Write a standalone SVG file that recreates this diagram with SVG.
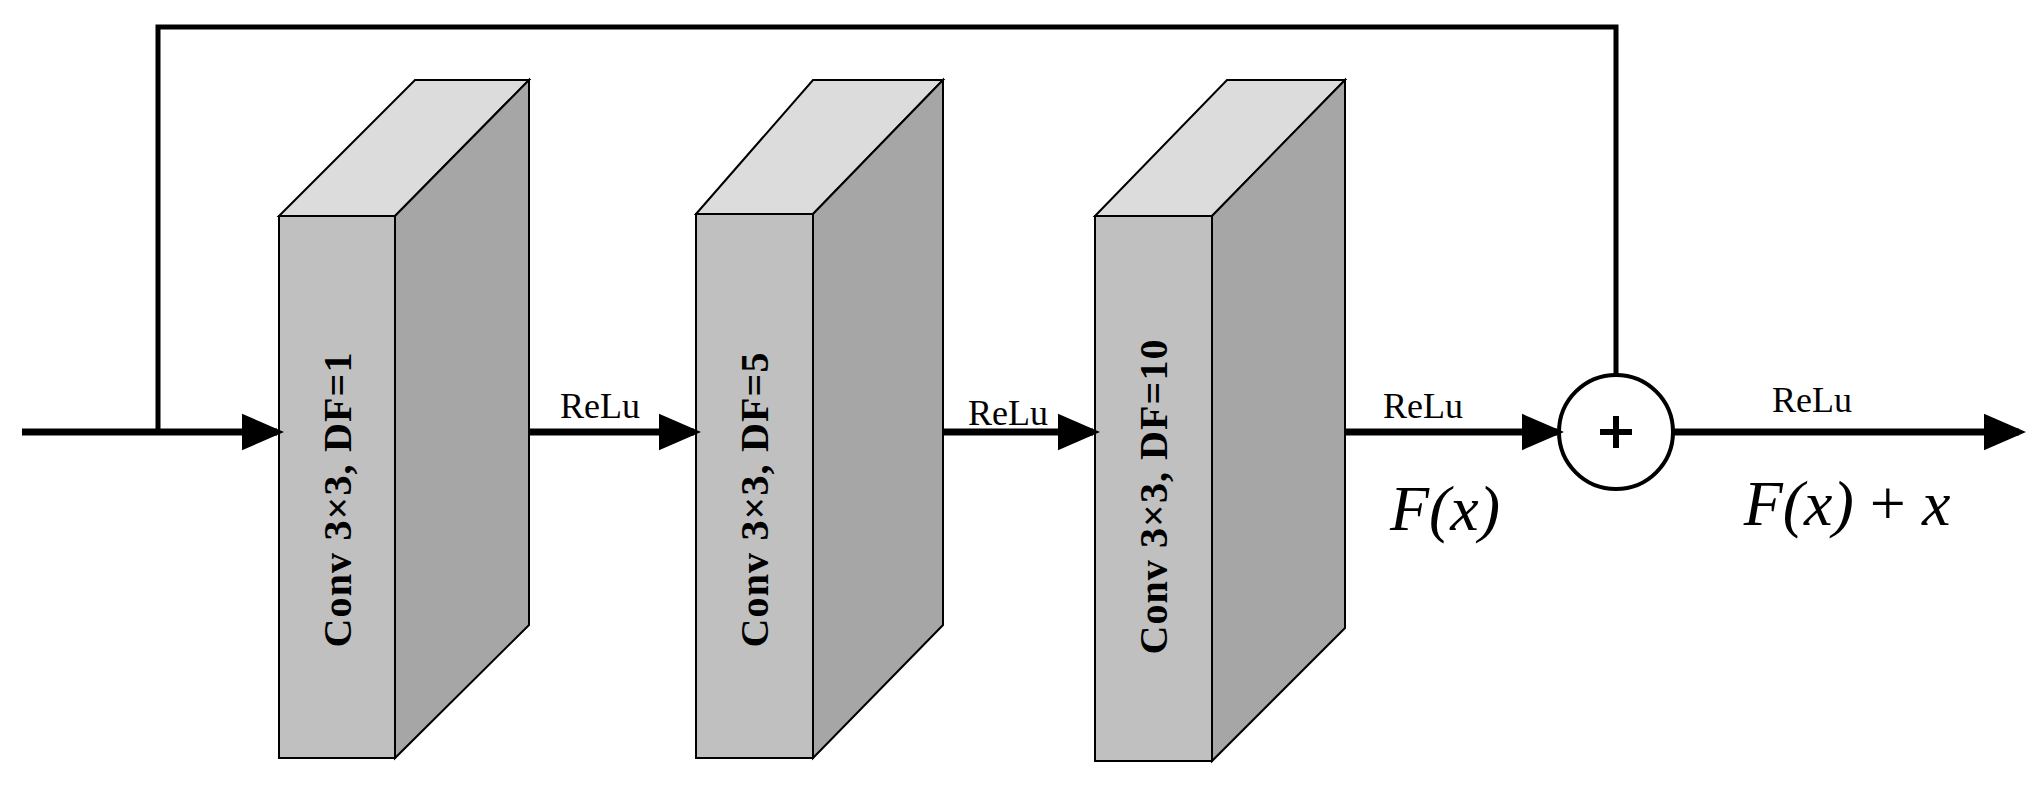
<svg xmlns="http://www.w3.org/2000/svg" width="2032" height="786" viewBox="0 0 2032 786">
<style>
.front{fill:#c0c0c0;stroke:#000;stroke-width:2}
.top{fill:#dcdcdc;stroke:#000;stroke-width:2}
.side{fill:#a6a6a6;stroke:#000;stroke-width:2}
.lbl{font-family:"Liberation Serif",serif;font-weight:bold;font-size:40px;fill:#000}
.relu{font-family:"Liberation Serif",serif;font-size:36px;fill:#000}
.math{font-family:"Liberation Serif",serif;font-style:italic;font-size:64px;fill:#000}
.ln{stroke:#000;stroke-width:7;fill:none}
</style>
<defs>
<marker id="ah" markerWidth="6" markerHeight="6" refX="5" refY="3" orient="auto" markerUnits="strokeWidth" viewBox="0 0 6 6">
<path d="M0,0.4 L6,3 L0,5.6 Z" fill="#000"/>
</marker>
</defs>
<g id="conv1">
<polygon class="top" points="279,216 415,80 529,80 395,216"/>
<polygon class="side" points="395,216 529,80 529,625 395,758"/>
<rect class="front" x="279" y="216" width="116" height="542"/>
<text class="lbl" transform="translate(351,500) rotate(-90)" text-anchor="middle" textLength="295">Conv 3×3, DF=1</text>
</g>
<g id="conv2">
<polygon class="top" points="696,214 813,80 943,80 813,214" />
<polygon class="side" points="813,214 943,80 943,625 813,758"/>
<rect class="front" x="696" y="214" width="117" height="544"/>
<text class="lbl" transform="translate(768,500) rotate(-90)" text-anchor="middle" textLength="295">Conv 3×3, DF=5</text>
</g>
<g id="conv3">
<polygon class="top" points="1095,216 1227,80 1345,80 1212,216"/>
<polygon class="side" points="1212,216 1345,80 1345,628 1212,761"/>
<rect class="front" x="1095" y="216" width="117" height="545"/>
<text class="lbl" transform="translate(1167,497) rotate(-90)" text-anchor="middle" textLength="315">Conv 3×3, DF=10</text>
</g>
<g id="add">
<circle cx="1616" cy="432" r="57" fill="#fff" stroke="#000" stroke-width="4"/>
<path d="M1616,416 V448 M1600,432 H1632" stroke="#000" stroke-width="6"/>
</g>
<g id="connectors">
<path class="ln" d="M22,432 H277" marker-end="url(#ah)"/>
<path class="ln" style="stroke-width:5" d="M158,432 V27 H1616 V375"/>
<path class="ln" d="M529,432 H694" marker-end="url(#ah)"/>
<path class="ln" d="M943,432 H1093" marker-end="url(#ah)"/>
<path class="ln" d="M1345,432 H1557" marker-end="url(#ah)"/>
<path class="ln" d="M1673,432 H2019" marker-end="url(#ah)"/>
</g>
<g id="labels">
<text class="relu" x="600" y="418" text-anchor="middle">ReLu</text>
<text class="relu" x="1008" y="425" text-anchor="middle">ReLu</text>
<text class="relu" x="1423" y="418" text-anchor="middle">ReLu</text>
<text class="relu" x="1812" y="412" text-anchor="middle">ReLu</text>
<text class="math" x="1445" y="530" text-anchor="middle">F(x)</text>
<text class="math" x="1847" y="525" text-anchor="middle">F(x) <tspan font-style="normal">+</tspan> x</text>
</g>
</svg>
